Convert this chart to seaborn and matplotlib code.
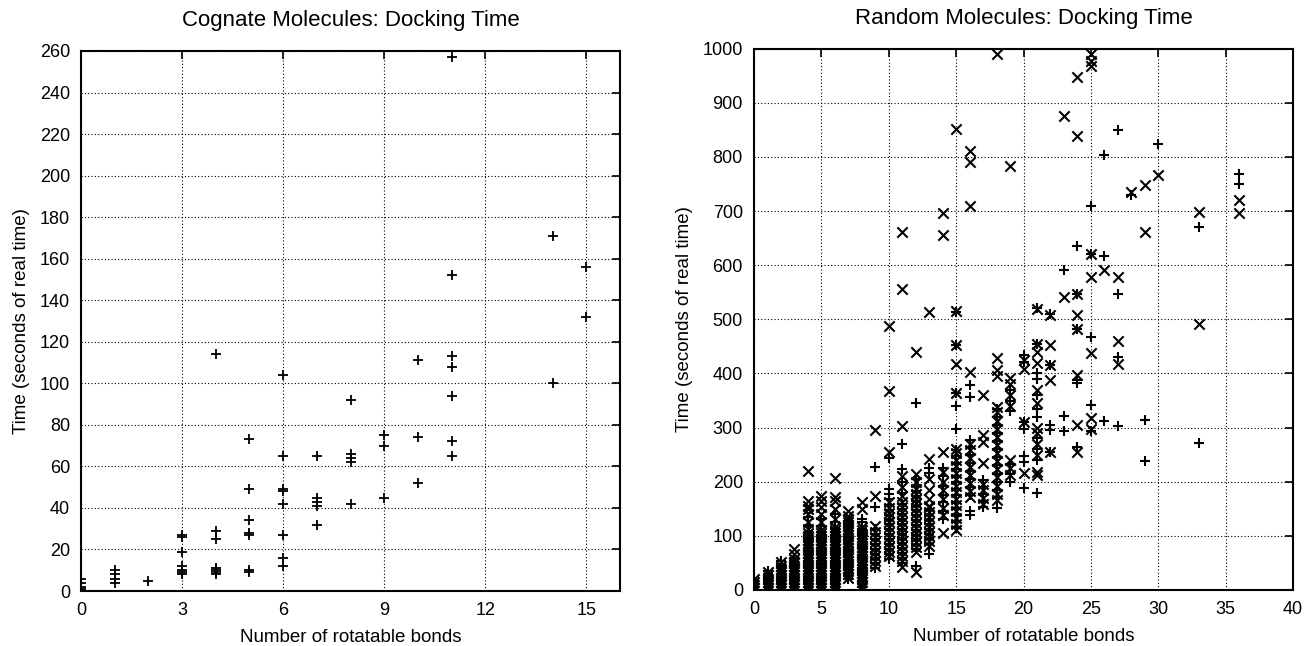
"""
Docking time vs number of rotatable bonds, cognate and random molecules
"""
import matplotlib
matplotlib.use("Agg")
import matplotlib.pyplot as plt
import pandas as pd
import seaborn as sns

sns.set_theme(style="white")
plt.rcParams['font.family'] = ['Liberation Sans', 'DejaVu Sans']
plt.rcParams['text.color'] = 'black'
plt.rcParams['axes.labelcolor'] = 'black'

# Cognate molecules: docking time (s) per number of rotatable bonds
cognate = {
    0: [1, 2, 4, 6],
    1: [4, 6, 8, 10],
    2: [5],
    3: [8, 9, 10, 12, 19, 26, 27],
    4: [8, 9, 10, 11, 25, 29, 114],
    5: [9, 10, 27, 28, 34, 49, 73],
    6: [12, 16, 27, 42, 48, 49, 65, 104],
    7: [32, 41, 43, 45, 65],
    8: [42, 62, 64, 66, 92],
    9: [45, 70, 75],
    10: [52, 74, 111],
    11: [65, 72, 94, 108, 113, 152, 257],
    14: [100, 171],
    15: [132, 156],
}

# Random molecules, '+' series
random_plus = {
    0: [0, 6, 12, 18],
    1: [0, 6, 12, 18, 24, 30, 36],
    2: [0, 6, 12, 18, 24, 30, 36, 42, 48, 54],
    3: [0, 6, 12, 18, 24, 30, 36, 42, 48, 54],
    4: [0, 6, 12, 18, 24, 30, 36, 42, 48, 54, 60, 66, 72, 78, 84, 90, 96, 102, 118, 135],
    5: [0, 6, 12, 18, 24, 30, 36, 42, 48, 54, 60, 66, 72, 78, 84, 90, 96, 102, 108, 119, 131],
    6: [0, 6, 12, 18, 24, 30, 36, 42, 48, 54, 60, 66, 72, 78, 84, 90, 96, 102, 108, 114, 125, 140],
    7: [20, 26, 32, 38, 44, 50, 56, 62, 68, 74, 80, 86, 92, 98, 104, 110, 116, 122, 128],
    8: [5, 11, 17, 23, 29, 35, 41, 47, 53, 59, 65, 71, 77, 83, 89, 95, 101, 107, 113, 125, 131],
    9: [40, 49, 58, 67, 76, 85, 94, 103, 112, 153, 228],
    10: [58, 67, 76, 85, 94, 103, 112, 121, 130, 139, 148, 157, 168, 178, 186, 243],
    11: [50, 59, 68, 77, 86, 95, 104, 113, 122, 131, 140, 149, 158, 180, 200, 223, 270],
    12: [45, 75, 84, 93, 102, 111, 120, 129, 138, 147, 156, 165, 174, 183, 192, 205, 345],
    13: [66, 85, 94, 103, 112, 121, 130, 139, 148, 217, 226],
    14: [131, 145, 162, 175, 193, 210, 226],
    15: [115, 127, 139, 151, 163, 175, 187, 199, 211, 223, 235, 247, 259, 297, 340, 364, 452, 514],
    16: [138, 146, 175, 190, 205, 220, 235, 250, 265, 277, 357, 378],
    17: [154, 165, 178, 190, 203],
    18: [151, 170, 185, 200, 215, 230, 245, 260, 275, 290, 305, 320, 335],
    19: [200, 215, 232, 330, 350, 370],
    20: [189, 237, 247, 298, 311, 421, 434],
    21: [180, 240, 260, 280, 320, 335, 360, 390, 400, 455, 520],
    22: [255, 295, 305, 415, 509],
    23: [294, 321, 592],
    24: [265, 382, 388, 483, 547, 635],
    25: [294, 342, 468, 620, 710],
    26: [313, 617, 804],
    27: [303, 431, 546, 850],
    28: [730],
    29: [238, 314],
    30: [823],
    33: [272, 670],
    36: [750, 768],
}

# Random molecules, 'x' series
random_cross = {
    0: [3, 9, 15, 20],
    1: [3, 9, 15, 21, 27, 33],
    2: [3, 9, 15, 21, 27, 33, 39, 45, 51],
    3: [3, 9, 15, 21, 27, 33, 39, 45, 51, 57, 66, 76],
    4: [3, 9, 15, 21, 27, 33, 39, 45, 51, 57, 63, 69, 75, 81, 87, 93, 99, 105,
        113, 125, 140, 150, 156, 165, 220],
    5: [3, 9, 15, 21, 27, 33, 39, 45, 51, 57, 63, 69, 75, 81, 87, 93, 99, 105, 111,
        125, 140, 153, 165, 174],
    6: [3, 9, 15, 21, 27, 33, 39, 45, 51, 57, 63, 69, 75, 81, 87, 93, 99, 105, 111, 117,
        132, 150, 165, 171, 206],
    7: [23, 29, 35, 41, 47, 53, 59, 65, 71, 77, 83, 89, 95, 101, 107, 113, 119, 125, 131, 137, 146],
    8: [8, 14, 20, 26, 32, 38, 44, 50, 56, 62, 68, 74, 80, 86, 92, 98, 104, 110, 116, 150, 162],
    9: [44, 53, 62, 71, 80, 89, 98, 107, 119, 174, 296],
    10: [62, 71, 80, 89, 98, 107, 116, 125, 134, 143, 152, 162, 254, 367, 488],
    11: [42, 54, 63, 72, 81, 90, 99, 108, 117, 126, 135, 144, 153, 162, 174, 190, 210, 303, 556, 661],
    12: [33, 70, 79, 88, 97, 106, 115, 124, 133, 142, 151, 160, 169, 178, 187, 199, 214, 440],
    13: [82, 90, 99, 108, 117, 126, 135, 144, 153, 156, 168, 185, 205, 242, 513],
    14: [106, 138, 152, 168, 185, 200, 218, 254, 655, 697],
    15: [111, 121, 133, 145, 157, 169, 181, 193, 205, 217, 229, 241, 253, 261, 364, 418, 452, 516, 852],
    16: [172, 183, 198, 213, 228, 243, 258, 270, 403, 710, 790, 811],
    17: [158, 170, 184, 196, 235, 274, 286, 361],
    18: [166, 178, 193, 208, 223, 238, 253, 268, 283, 298, 313, 328, 338, 395, 406, 428, 990],
    19: [212, 225, 240, 340, 360, 380, 391, 783],
    20: [217, 311, 409, 425],
    21: [212, 218, 250, 270, 290, 300, 345, 370, 420, 440, 455, 519],
    22: [255, 388, 415, 453, 508],
    23: [541, 875],
    24: [255, 305, 397, 483, 508, 547, 839, 948],
    25: [298, 317, 437, 578, 620, 968, 978, 990],
    26: [592],
    27: [417, 460, 579],
    28: [736],
    29: [662, 748],
    30: [767],
    33: [491, 699],
    36: [697, 720],
}


def to_frame(cols):
    rows = [(b, t) for b, times in cols.items() for t in times]
    return pd.DataFrame(rows, columns=['bonds', 'time'])


fig = plt.figure(figsize=(13.05, 6.46), dpi=100)
ax1 = fig.add_axes([0.0621, 0.0851, 0.413, 0.836])
ax2 = fig.add_axes([0.5778, 0.0867, 0.413, 0.838])

sns.scatterplot(data=to_frame(cognate), x='bonds', y='time', marker='+',
                color='black', s=60, linewidth=1.3, ax=ax1, zorder=3)
sns.scatterplot(data=to_frame(random_plus), x='bonds', y='time', marker='+',
                color='black', s=60, linewidth=1.5, ax=ax2, zorder=3)
sns.scatterplot(data=to_frame(random_cross), x='bonds', y='time', marker='x',
                color='black', s=55, linewidth=1.5, ax=ax2, zorder=3)

ax1.set_xlim(0, 16)
ax1.set_ylim(0, 260)
ax1.set_xticks(range(0, 16, 3))
ax1.set_yticks(range(0, 261, 20))
ax1.set_title('Cognate Molecules: Docking Time', fontsize=16, pad=18)

ax2.set_xlim(0, 40)
ax2.set_ylim(0, 1000)
ax2.set_xticks(range(0, 41, 5))
ax2.set_yticks(range(0, 1001, 100))
ax2.set_title('Random Molecules: Docking Time', fontsize=16, pad=18)

for ax in (ax1, ax2):
    ax.set_xlabel('Number of rotatable bonds', fontsize=13.5, labelpad=7)
    ax.set_ylabel('Time (seconds of real time)', fontsize=13.5, labelpad=7)
    ax.grid(True, linestyle=(0, (1, 2)), color='black', linewidth=0.8)
    ax.set_axisbelow(True)
    ax.tick_params(direction='in', length=6, width=1.2, labelsize=13,
                   top=True, right=True, pad=8, colors='black')
    for spine in ax.spines.values():
        spine.set_color('black')
        spine.set_linewidth(1.5)

fig.savefig('out.png', dpi=100, facecolor='white')
